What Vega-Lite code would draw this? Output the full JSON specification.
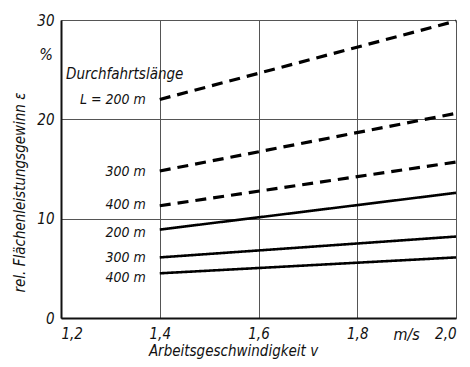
{
  "$schema": "https://vega.github.io/schema/vega-lite/v6.json",
  "autosize": {"type": "none"},
  "width": 395,
  "height": 298,
  "padding": {"left": 61, "top": 20, "right": 14, "bottom": 49},
  "background": "white",
  "config": {
    "font": "Liberation Sans Narrow, DejaVu Sans Condensed, Liberation Sans",
    "view": {"stroke": null},
    "axis": {
      "labelFont": "Liberation Sans Narrow, DejaVu Sans Condensed, Liberation Sans",
      "titleFont": "Liberation Sans Narrow, DejaVu Sans Condensed, Liberation Sans",
      "labelFontStyle": "italic",
      "titleFontStyle": "italic",
      "labelFontSize": 15,
      "titleFontSize": 15,
      "labelColor": "#111",
      "titleColor": "#111",
      "titleFontWeight": "normal",
      "gridColor": "#555",
      "gridWidth": 1,
      "domainColor": "#111",
      "domainWidth": 2,
      "ticks": false
    }
  },
  "datasets": {
    "lines": [
      {"series": "d200", "type": "dashed", "v": 1.4, "e": 22.0},
      {"series": "d200", "type": "dashed", "v": 2.0, "e": 29.9},
      {"series": "d300", "type": "dashed", "v": 1.4, "e": 14.8},
      {"series": "d300", "type": "dashed", "v": 2.0, "e": 20.6},
      {"series": "d400", "type": "dashed", "v": 1.4, "e": 11.3},
      {"series": "d400", "type": "dashed", "v": 2.0, "e": 15.7},
      {"series": "s200", "type": "solid", "v": 1.4, "e": 8.9},
      {"series": "s200", "type": "solid", "v": 2.0, "e": 12.6},
      {"series": "s300", "type": "solid", "v": 1.4, "e": 6.1},
      {"series": "s300", "type": "solid", "v": 2.0, "e": 8.2},
      {"series": "s400", "type": "solid", "v": 1.4, "e": 4.5},
      {"series": "s400", "type": "solid", "v": 2.0, "e": 6.1}
    ],
    "labels": [
      {"v": 1.4, "e": 21.9, "t": "L = 200 m"},
      {"v": 1.4, "e": 14.7, "t": "300 m"},
      {"v": 1.4, "e": 11.4, "t": "400 m"},
      {"v": 1.4, "e": 8.6, "t": "200 m"},
      {"v": 1.4, "e": 6.0, "t": "300 m"},
      {"v": 1.4, "e": 4.0, "t": "400 m"}
    ]
  },
  "data": {"name": "lines"},
  "layer": [
    {
      "mark": {"type": "line", "color": "black", "clip": false},
      "encoding": {
        "x": {
          "field": "v", "type": "quantitative",
          "scale": {"domain": [1.2, 2.0], "nice": false, "zero": false},
          "axis": {
            "values": [1.2, 1.4, 1.6, 1.8, 2.0],
            "labelExpr": "replace(format(datum.value, '.1f'), '.', ',')",
            "labelPadding": 8,
            "title": "Arbeitsgeschwindigkeit v",
            "titleX": 172,
            "titlePadding": 2
          }
        },
        "y": {
          "field": "e", "type": "quantitative",
          "scale": {"domain": [0, 30], "nice": false},
          "axis": {
            "values": [0, 10, 20, 30],
            "labelPadding": 7,
            "title": "rel. Flächenleistungsgewinn ε",
            "titleY": 172,
            "titlePadding": 9
          }
        },
        "detail": {"field": "series"},
        "strokeDash": {
          "field": "type", "type": "nominal",
          "scale": {"domain": ["dashed", "solid"], "range": [[11, 7], [1, 0]]},
          "legend": null
        },
        "strokeWidth": {
          "field": "type", "type": "nominal",
          "scale": {"domain": ["dashed", "solid"], "range": [3.2, 2.6]},
          "legend": null
        }
      }
    },
    {
      "data": {"name": "labels"},
      "mark": {"type": "text", "align": "right", "baseline": "middle", "dx": -14, "fontSize": 14, "fontStyle": "italic", "color": "#111"},
      "encoding": {
        "x": {"field": "v", "type": "quantitative"},
        "y": {"field": "e", "type": "quantitative"},
        "text": {"field": "t"}
      }
    },
    {
      "data": {"values": [
        {"v": 1.2, "e": 24.6, "t": "Durchfahrtslänge"}
      ]},
      "mark": {"type": "text", "align": "left", "baseline": "middle", "dx": 5, "fontSize": 15, "fontStyle": "italic", "color": "#111"},
      "encoding": {
        "x": {"field": "v", "type": "quantitative"},
        "y": {"field": "e", "type": "quantitative"},
        "text": {"field": "t"}
      }
    },
    {
      "data": {"values": [
        {"v": 1.2, "e": 26.5, "t": "%"}
      ]},
      "mark": {"type": "text", "align": "right", "baseline": "middle", "dx": -8, "fontSize": 16, "fontStyle": "italic", "color": "#111"},
      "encoding": {
        "x": {"field": "v", "type": "quantitative"},
        "y": {"field": "e", "type": "quantitative"},
        "text": {"field": "t"}
      }
    },
    {
      "data": {"values": [
        {"v": 1.9, "e": 0, "t": "m/s"}
      ]},
      "mark": {"type": "text", "align": "center", "baseline": "top", "dy": 9, "fontSize": 16, "fontStyle": "italic", "color": "#111"},
      "encoding": {
        "x": {"field": "v", "type": "quantitative"},
        "y": {"field": "e", "type": "quantitative"},
        "text": {"field": "t"}
      }
    }
  ]
}
